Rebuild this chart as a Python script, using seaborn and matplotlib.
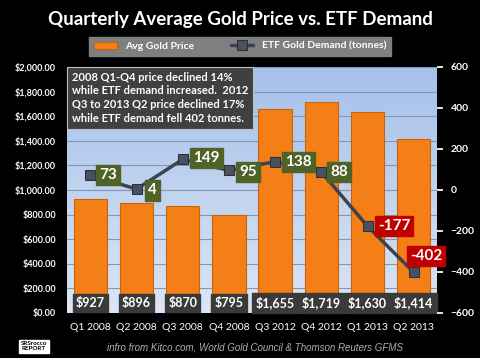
import numpy as np
import matplotlib
matplotlib.use("Agg")
import matplotlib.pyplot as plt
import seaborn as sns
from matplotlib.ticker import FuncFormatter

quarters = ["Q1 2008", "Q2 2008", "Q3 2008", "Q4 2008",
            "Q3 2012", "Q4 2012", "Q1 2013", "Q2 2013"]
gold_price = [927, 896, 870, 795, 1655, 1719, 1630, 1414]
etf_demand = [73, 4, 149, 95, 138, 88, -177, -402]
price_labels = ["$927", "$896", "$870", "$795", "$1,655", "$1,719", "$1,630", "$1,414"]

# label offsets (points) for the ETF values
label_offsets = [(13, 0), (11.5, -1), (17, 1), (14, -1), (17, 0), (13, 0), (19, 0), (9, 12)]

sns.set_theme(style="white")
plt.rcParams["font.family"] = ["Lato", "DejaVu Sans"]

fig = plt.figure(figsize=(4.8, 3.58), dpi=100, facecolor="black")
ax = fig.add_axes([0.140, 0.126, 0.770, 0.687])

# light blue gradient background
grad = np.linspace(0, 1, 256).reshape(-1, 1)
cmap = matplotlib.colors.LinearSegmentedColormap.from_list("bg", ["#dce6f4", "#a5c0ea"])
ax.imshow(grad, extent=[0, 1, 0, 1], transform=ax.transAxes, cmap=cmap,
          aspect="auto", origin="lower", zorder=0)

sns.barplot(x=quarters, y=gold_price, ax=ax, color="#f57f17", width=0.72,
            saturation=1, edgecolor="#c9620c", linewidth=0.8, zorder=2,
            label="Avg Gold Price")
h1, l1 = ax.get_legend_handles_labels()
if ax.get_legend() is not None:
    ax.get_legend().remove()
ax.set_ylim(0, 2000)
ax.set_xlim(-0.5, len(quarters) - 0.5)
ax.set_yticks(np.arange(0, 2001, 200))
ax.yaxis.set_major_formatter(FuncFormatter(lambda v, p: "${:,.2f}".format(v)))
ax.grid(axis="y", color="#8497b0", linewidth=0.8, zorder=1)
ax.set_axisbelow(True)
for s in ax.spines.values():
    s.set_visible(False)
ax.tick_params(axis="y", colors="white", labelsize=6.5, length=0, pad=8)
ax.tick_params(axis="x", colors="white", labelsize=7.5, length=0, pad=7)
for t in ax.get_yticklabels():
    t.set_fontweight("bold")
ax.set_xlabel("")

for i, lab in enumerate(price_labels):
    ax.text(i, 80, lab, ha="center", va="center", color="white", fontsize=9,
            fontweight="bold", zorder=5,
            bbox=dict(boxstyle="square,pad=0.25", fc="#3a3a3a", ec="#3a3a3a"))

ax2 = ax.twinx()
sns.lineplot(x=np.arange(len(quarters)), y=etf_demand, ax=ax2, color="#3b4250",
             linewidth=2.5, marker="s", markersize=7, markerfacecolor="#4a5060",
             markeredgecolor="#2a2f38", label="ETF Gold Demand (tonnes)", legend=False)
h2, l2 = ax2.get_legend_handles_labels()
ax2.set_ylim(-600, 600)
ax2.set_yticks(np.arange(-600, 601, 200))
for s in ax2.spines.values():
    s.set_visible(False)
ax2.tick_params(axis="y", colors="white", labelsize=7.5, length=4, pad=6, direction="out")
for t in ax2.get_yticklabels():
    t.set_fontweight("bold")
ax2.set_xlim(-0.5, len(quarters) - 0.5)

for i, v in enumerate(etf_demand):
    fc = "#4f6228" if v >= 0 else "#c00000"
    ax2.annotate(str(v), (i, v), xytext=label_offsets[i], textcoords="offset points",
                 ha="center", va="center", color="white", fontsize=11, fontweight="bold",
                 zorder=6, bbox=dict(boxstyle="square,pad=0.2", fc=fc, ec=fc))

# info box
fig.text(0.150, 0.80,
         "2008 Q1-Q4 price declined 14%\nwhile ETF demand increased.  2012\n"
         "Q3 to 2013 Q2 price declined 17%\nwhile ETF demand fell 402 tonnes.",
         ha="left", va="top", color="white", fontsize=8, fontweight="bold", linespacing=1.3,
         bbox=dict(boxstyle="square,pad=0.45", fc="#404040", ec="#c0c0c0", lw=0.8), zorder=10)

fig.text(0.5, 0.945, "Quarterly Average Gold Price vs. ETF Demand", ha="center", va="center",
         color="white", fontsize=13.5, fontweight="bold")

leg = fig.legend(h1 + h2, l1 + l2, loc="center", bbox_to_anchor=(0.5, 0.871), ncol=2,
                 frameon=True, facecolor="#7f7f7f", edgecolor="#7f7f7f", framealpha=1,
                 fancybox=False, fontsize=7.5, handlelength=2.2, columnspacing=3.5,
                 borderpad=0.45)
for t in leg.get_texts():
    t.set_color("white")
    t.set_fontweight("bold")

fig.text(0.84, 0.028, "infro from Kitco.com, World Gold Council & Thomson Reuters GFMS",
         ha="right", va="center", color="#b0b0b0", fontsize=7, style="italic",
         family=["Liberation Sans", "DejaVu Sans"])
fig.text(0.07, 0.033, "SRSrocco\nREPORT", ha="center", va="center", color="black",
         fontsize=4.5, fontweight="bold", linespacing=0.9,
         bbox=dict(boxstyle="square,pad=0.3", fc="white", ec="white"))

fig.savefig("out.png", dpi=100, facecolor="black")
